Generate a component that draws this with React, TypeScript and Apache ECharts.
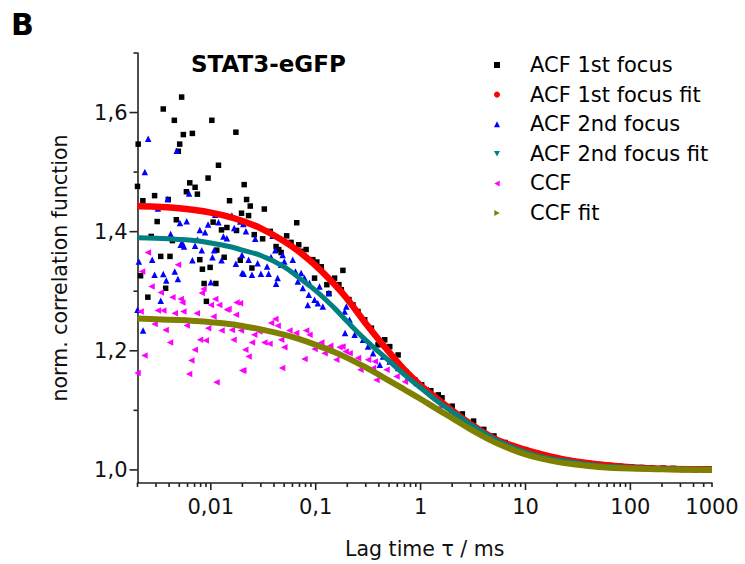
import React, { useEffect, useRef } from 'react';
import * as echarts from 'echarts';

const FONT = "'DejaVu Sans', 'Liberation Sans', sans-serif";

const X_MIN = 0.002;
const X_MAX = 600;
const Y_MIN = 0.978;
const Y_MAX = 1.7;

const xLabelValues = [0.01, 0.1, 1, 10, 100, 600];
const xLabelTexts = ['0,01', '0,1', '1', '10', '100', '1000'];
const xMajorTicks = [0.01, 0.1, 1, 10, 100];
const xMinorTicks = [
  0.002, 0.003, 0.004, 0.005, 0.006, 0.007, 0.008, 0.009,
  0.02, 0.03, 0.04, 0.05, 0.06, 0.07, 0.08, 0.09,
  0.2, 0.3, 0.4, 0.5, 0.6, 0.7, 0.8, 0.9,
  2, 3, 4, 5, 6, 7, 8, 9,
  20, 30, 40, 50, 60, 70, 80, 90,
  200, 300, 400, 500, 600,
];
const yLabelValues = [1.0, 1.2, 1.4, 1.6];
const yLabelTexts = ['1,0', '1,2', '1,4', '1,6'];
const yMinorTicks = [1.1, 1.3, 1.5, 1.7];

const legendNames = [
  'ACF 1st focus',
  'ACF 1st focus fit',
  'ACF 2nd focus',
  'ACF 2nd focus fit',
  'CCF',
  'CCF fit',
];

// ACF 1st focus (black squares): [lag time ms, G]
const acf1Data = [
  [0.002, 1.476], [0.00203, 1.547], [0.00214, 1.326], [0.00225, 1.452], [0.00251, 1.29],
  [0.0027, 1.392], [0.00291, 1.4605], [0.00308, 1.417], [0.00333, 1.3585], [0.00352, 1.606],
  [0.00371, 1.305], [0.00393, 1.454], [0.00408, 1.3585], [0.0043, 1.385], [0.00449, 1.587],
  [0.00469, 1.42], [0.0049, 1.535], [0.00505, 1.547], [0.00527, 1.626], [0.00547, 1.563],
  [0.00585, 1.467], [0.0063, 1.482], [0.00667, 1.565], [0.00708, 1.4745], [0.00745, 1.463],
  [0.00785, 1.353], [0.00831, 1.337], [0.00863, 1.313], [0.00908, 1.283], [0.00942, 1.49],
  [0.00985, 1.34], [0.01023, 1.587], [0.01052, 1.416], [0.01117, 1.313], [0.0114, 1.369],
  [0.01183, 1.5115], [0.01264, 1.403], [0.0134, 1.357], [0.01423, 1.407], [0.01508, 1.452],
  [0.01734, 1.567], [0.01758, 1.402], [0.0191, 1.352], [0.01963, 1.431], [0.0208, 1.479],
  [0.02193, 1.454], [0.02291, 1.427], [0.02377, 1.443], [0.02466, 1.339], [0.02594, 1.395],
  [0.03119, 1.388], [0.03236, 1.438], [0.0369, 1.4005], [0.0419, 1.375], [0.0444, 1.37],
  [0.0468, 1.365], [0.05285, 1.393], [0.0582, 1.382], [0.0659, 1.415], [0.0689, 1.378],
  [0.0726, 1.367], [0.081, 1.37], [0.0938, 1.353], [0.0975, 1.322], [0.1025, 1.349],
  [0.1129, 1.341], [0.1277, 1.311], [0.1336, 1.296], [0.1513, 1.322], [0.1664, 1.311],
  [0.1754, 1.3025], [0.1817, 1.335], [0.2073, 1.286], [0.2265, 1.277], [0.2529, 1.266],
  [0.2931, 1.252], [0.3396, 1.238], [0.3926, 1.21], [0.4549, 1.2185], [0.508, 1.207],
  [0.6106, 1.193], [0.7236, 1.165], [0.8816, 1.151], [1.023, 1.143], [1.25, 1.133],
  [1.474, 1.126], [1.6, 1.121], [2, 1.107], [2.5, 1.094], [3.2, 1.082], [4, 1.068],
  [5, 1.057], [6.4, 1.046], [8, 1.039], [10, 1.034], [12.8, 1.028], [16, 1.023],
  [20, 1.019], [25.6, 1.016], [32, 1.013], [40, 1.011], [51, 1.009], [64, 1.0075],
  [80, 1.006], [102, 1.005], [128, 1.004], [160, 1.0035], [205, 1.003], [256, 1.0025],
  [320, 1.002], [410, 1.0015], [512, 1.001],
];

// ACF 2nd focus (blue triangles)
const acf2Data = [
  [0.00253, 1.556], [0.00473, 1.536], [0.00235, 1.5], [0.0062, 1.464], [0.00388, 1.455],
  [0.00313, 1.4387], [0.011, 1.4286], [0.01588, 1.427], [0.00508, 1.4146], [0.00589, 1.4174],
  [0.00785, 1.403], [0.00882, 1.399], [0.00942, 1.412], [0.01183, 1.4157], [0.0132, 1.392],
  [0.01423, 1.389], [0.0167, 1.406], [0.0191, 1.417], [0.00414, 1.396], [0.00745, 1.3866],
  [0.00535, 1.381], [0.00206, 1.35], [0.00276, 1.353], [0.00516, 1.378], [0.00555, 1.375],
  [0.00708, 1.3765], [0.0082, 1.3686], [0.01076, 1.3686], [0.00667, 1.352], [0.01036, 1.357],
  [0.01264, 1.352], [0.01734, 1.346], [0.00291, 1.3277], [0.00352, 1.329], [0.00453, 1.3333],
  [0.00376, 1.318], [0.00486, 1.3205], [0.01, 1.315], [0.00333, 1.284], [0.002, 1.269],
  [0.00226, 1.234], [0.0199, 1.3306], [0.0204, 1.413], [0.02163, 1.4005], [0.02654, 1.388],
  [0.0388, 1.393], [0.01982, 1.361], [0.02291, 1.353], [0.02793, 1.347], [0.03436, 1.3417],
  [0.0375, 1.3574], [0.0412, 1.3686], [0.0484, 1.361], [0.0502, 1.35], [0.0468, 1.3445],
  [0.0604, 1.353], [0.0206, 1.3294], [0.02466, 1.3277], [0.03006, 1.3294], [0.03556, 1.3294],
  [0.04335, 1.322], [0.0419, 1.3126], [0.0641, 1.3333], [0.0726, 1.3306], [0.0781, 1.322],
  [0.0675, 1.3165], [0.0872, 1.3137], [0.0753, 1.3053], [0.1087, 1.308], [0.0859, 1.294],
  [0.0975, 1.2857], [0.1336, 1.297], [0.1047, 1.28], [0.084, 1.277], [0.1169, 1.2745],
  [0.1958, 1.2745], [0.1888, 1.266], [0.2104, 1.252], [0.1905, 1.2297], [0.2351, 1.227],
  [0.2823, 1.2185], [0.3152, 1.207], [0.3517, 1.196], [0.4385, 1.1905], [0.508, 1.182],
  [0.6106, 1.171], [0.7603, 1.157], [0.9162, 1.1457], [1.183, 1.1345], [0.4082, 1.1765],
  [1.5, 1.118], [2, 1.1], [2.5, 1.088], [3.2, 1.075], [4, 1.064], [5, 1.054], [6.4, 1.044],
  [8, 1.037], [10, 1.032], [12.8, 1.026], [16, 1.021], [20, 1.018], [25.6, 1.015],
  [32, 1.012], [40, 1.01], [51, 1.008], [64, 1.007], [80, 1.0055], [102, 1.0045],
  [128, 1.004], [160, 1.003], [205, 1.0025], [256, 1.002], [320, 1.0015], [410, 1.001],
  [512, 1.001],
];

// CCF (magenta left triangles)
const ccfData = [
  [0.00251, 1.365], [0.00486, 1.3445], [0.00221, 1.3333], [0.00272, 1.308], [0.00333, 1.298],
  [0.0043, 1.29], [0.00516, 1.287], [0.00535, 1.281], [0.00849, 1.3037], [0.0082, 1.297],
  [0.01, 1.277], [0.011, 1.287], [0.012, 1.277], [0.01473, 1.27], [0.01758, 1.281],
  [0.00214, 1.266], [0.00313, 1.2678], [0.00352, 1.2678], [0.00453, 1.263], [0.00547, 1.266],
  [0.00735, 1.263], [0.01059, 1.2577], [0.01423, 1.269], [0.01734, 1.2605], [0.00291, 1.245],
  [0.00589, 1.2425], [0.00371, 1.235], [0.00942, 1.238], [0.01264, 1.234], [0.01588, 1.235],
  [0.01937, 1.234], [0.0079, 1.2185], [0.00896, 1.2174], [0.00408, 1.214], [0.01645, 1.2185],
  [0.00703, 1.2017], [0.00233, 1.192], [0.00652, 1.1837], [0.002, 1.1625], [0.0062, 1.161],
  [0.0199, 1.167], [0.01132, 1.147], [0.0412, 1.2533], [0.0375, 1.2465], [0.04335, 1.242],
  [0.01896, 1.28], [0.02594, 1.227], [0.029, 1.2325], [0.0561, 1.234], [0.065, 1.2297],
  [0.081, 1.234], [0.0872, 1.227], [0.0468, 1.2185], [0.02466, 1.214], [0.03236, 1.214],
  [0.0362, 1.2118], [0.1129, 1.214], [0.0975, 1.2028], [0.1377, 1.2084], [0.169, 1.206],
  [0.0502, 1.206], [0.02129, 1.2017], [0.02291, 1.1905], [0.1214, 1.196], [0.1928, 1.199],
  [0.157, 1.185], [0.0781, 1.186], [0.0204, 1.167], [0.0478, 1.171], [0.1795, 1.207],
  [0.2104, 1.196], [0.2529, 1.1877], [0.3152, 1.185], [0.3654, 1.182], [0.3517, 1.171],
  [0.3793, 1.151], [0.473, 1.168], [0.589, 1.157], [0.7079, 1.148], [0.9846, 1.137],
  [0.2667, 1.168], [1.5, 1.104], [2, 1.09], [2.5, 1.079], [3.2, 1.067], [4, 1.057],
  [5, 1.048], [6.4, 1.039], [8, 1.033], [10, 1.028], [12.8, 1.023], [16, 1.019],
  [20, 1.016], [25.6, 1.013], [32, 1.011], [40, 1.009], [51, 1.0075], [64, 1.006],
  [80, 1.005], [102, 1.004], [128, 1.0035], [160, 1.003], [205, 1.0025], [256, 1.002],
  [320, 1.0015], [410, 1.001], [512, 1.001],
];

// Fit curves
const acf1Fit = [
  [0.002, 1.4425], [0.003, 1.442], [0.005, 1.4395], [0.007, 1.4365], [0.01, 1.432],
  [0.015, 1.425], [0.02, 1.418], [0.03, 1.4055], [0.05, 1.384], [0.07, 1.366],
  [0.1, 1.343], [0.15, 1.312], [0.2, 1.287], [0.3, 1.246], [0.5, 1.198], [0.7, 1.168],
  [1, 1.142], [1.5, 1.117], [2, 1.1], [3, 1.077], [5, 1.053], [7, 1.0425], [10, 1.0335],
  [15, 1.025], [20, 1.02], [30, 1.014], [50, 1.009], [100, 1.0045], [200, 1.002], [600, 1.001],
];
const acf2Fit = [
  [0.002, 1.39], [0.003, 1.389], [0.005, 1.387], [0.007, 1.385], [0.01, 1.381],
  [0.015, 1.375], [0.02, 1.369], [0.03, 1.36], [0.05, 1.341], [0.07, 1.322],
  [0.1, 1.301], [0.15, 1.272], [0.2, 1.249], [0.3, 1.218], [0.5, 1.183], [0.7, 1.16],
  [1, 1.138], [1.5, 1.113], [2, 1.098], [3, 1.076], [5, 1.052], [7, 1.04], [10, 1.03],
  [15, 1.021], [20, 1.017], [30, 1.012], [50, 1.007], [100, 1.004], [200, 1.002], [600, 1.001],
];
const ccfFit = [
  [0.002, 1.254], [0.003, 1.253], [0.005, 1.2515], [0.007, 1.25], [0.01, 1.248],
  [0.015, 1.245], [0.02, 1.2415], [0.03, 1.236], [0.05, 1.227], [0.07, 1.2195],
  [0.1, 1.21], [0.15, 1.198], [0.2, 1.188], [0.3, 1.172], [0.5, 1.15], [0.7, 1.135],
  [1, 1.119], [1.5, 1.1], [2, 1.087], [3, 1.068], [5, 1.047], [7, 1.036], [10, 1.026],
  [15, 1.018], [20, 1.0135], [30, 1.009], [50, 1.005], [100, 1.0022], [200, 1.001], [600, 1.0],
];

const AXIS_COLOR = '#222';

function labelFor(values: number[], texts: string[], v: number, logScale: boolean) {
  for (let i = 0; i < values.length; i++) {
    const a = logScale ? Math.log10(values[i]) : values[i];
    const b = logScale ? Math.log10(v) : v;
    if (Math.abs(a - b) < 1e-3) return texts[i];
  }
  return '';
}

export default function App() {
  const ref = useRef<HTMLDivElement>(null);

  useEffect(() => {
    document.body.style.margin = '0';
    if (!ref.current) return;
    const chart = echarts.init(ref.current, null, { renderer: 'svg' });

    const tickData: number[][] = [];
    xMajorTicks.forEach((v) => tickData.push([v, Y_MIN, 7, 0]));
    xMinorTicks.forEach((v) => tickData.push([v, Y_MIN, 4, 0]));
    yLabelValues.forEach((v) => tickData.push([X_MIN, v, 8, 1]));
    yMinorTicks.forEach((v) => tickData.push([X_MIN, v, 4, 1]));

    const option: any = {
      animation: false,
      title: [
        {
          text: 'B',
          left: 11,
          top: 9,
          padding: 0,
          textStyle: { fontFamily: FONT, fontWeight: 'bold', fontSize: 30, color: '#000', lineHeight: 30 },
        },
        {
          text: 'STAT3-eGFP',
          left: 191,
          top: 52,
          padding: 0,
          textStyle: { fontFamily: FONT, fontWeight: 'bold', fontSize: 23, color: '#000', lineHeight: 23 },
        },
      ],
      legend: {
        orient: 'vertical',
        left: 494,
        top: 54,
        padding: 0,
        itemWidth: 6,
        itemHeight: 6,
        itemGap: 7.6,
        selectedMode: false,
        textStyle: {
          fontFamily: FONT,
          fontSize: 21,
          color: '#000',
          lineHeight: 22,
          padding: [0, 0, 0, 25],
        },
        data: [
          { name: legendNames[0], icon: 'rect' },
          { name: legendNames[1], icon: 'circle' },
          { name: legendNames[2], icon: 'triangle' },
          { name: legendNames[3], icon: 'path://M0,0L10,0L5,9Z' },
          { name: legendNames[4], icon: 'path://M9,0L9,10L0,5Z' },
          { name: legendNames[5], icon: 'path://M0,0L9,5L0,10Z' },
        ],
      },
      grid: { left: 137.5, right: 33, top: 53, bottom: 81, containLabel: false, outerBoundsMode: 'none' },
      xAxis: {
        type: 'log',
        logBase: 10,
        min: X_MIN,
        max: X_MAX,
        axisLine: { show: true, onZero: false, lineStyle: { color: AXIS_COLOR, width: 1.6 } },
        axisTick: { show: false },
        minorTick: { show: false },
        splitLine: { show: false },
        minorSplitLine: { show: false },
        axisLabel: {
          margin: 13,
          fontFamily: FONT,
          fontSize: 21,
          color: '#111',
          formatter: (v: number) => labelFor(xLabelValues, xLabelTexts, v, true),
        },
        name: 'Lag time τ / ms',
        nameLocation: 'middle',
        nameGap: 55,
        nameTextStyle: { fontFamily: FONT, fontSize: 20.5, color: '#111', lineHeight: 21 },
      },
      yAxis: {
        type: 'value',
        min: Y_MIN,
        max: Y_MAX,
        axisLine: { show: true, onZero: false, lineStyle: { color: AXIS_COLOR, width: 1.6 } },
        axisTick: { show: false },
        splitLine: { show: false },
        axisLabel: {
          customValues: yLabelValues,
          margin: 10,
          fontFamily: FONT,
          fontSize: 21,
          color: '#111',
          formatter: (v: number) => labelFor(yLabelValues, yLabelTexts, v, false),
        },
        name: 'norm. correlation function',
        nameLocation: 'middle',
        nameRotate: 90,
        nameGap: 67,
        nameTextStyle: { fontFamily: FONT, fontSize: 20.5, color: '#111', lineHeight: 21 },
      },
      series: [
        {
          name: legendNames[0],
          type: 'scatter',
          data: acf1Data,
          symbol: 'rect',
          symbolSize: 5.5,
          itemStyle: { color: '#000000', opacity: 1 },
        },
        {
          name: legendNames[1],
          type: 'line',
          data: acf1Fit,
          smooth: 0.4,
          showSymbol: false,
          itemStyle: { color: '#ff0000' },
          lineStyle: { color: '#ff0000', width: 6.5 },
        },
        {
          name: legendNames[2],
          type: 'scatter',
          data: acf2Data,
          symbol: 'triangle',
          symbolSize: 6.5,
          itemStyle: { color: '#0000ff', opacity: 1 },
        },
        {
          name: legendNames[3],
          type: 'line',
          data: acf2Fit,
          smooth: 0.4,
          showSymbol: false,
          itemStyle: { color: '#008080' },
          lineStyle: { color: '#008080', width: 5 },
        },
        {
          name: legendNames[4],
          type: 'scatter',
          data: ccfData,
          symbol: 'triangle',
          symbolRotate: 90,
          symbolSize: 6.5,
          itemStyle: { color: '#ff00ff', opacity: 1 },
        },
        {
          name: legendNames[5],
          type: 'line',
          data: ccfFit,
          smooth: 0.4,
          showSymbol: false,
          itemStyle: { color: '#808000' },
          lineStyle: { color: '#808000', width: 6 },
        },
        {
          name: 'axis ticks',
          type: 'custom',
          silent: true,
          clip: false,
          z: 10,
          data: tickData,
          encode: { x: 0, y: 1 },
          renderItem: (_params: any, api: any) => {
            const p = api.coord([api.value(0), api.value(1)]);
            const len = api.value(2);
            const dir = api.value(3);
            const x2 = dir === 0 ? p[0] : p[0] - len;
            const y2 = dir === 0 ? p[1] + len : p[1];
            return {
              type: 'line',
              shape: { x1: p[0], y1: p[1], x2, y2 },
              style: { stroke: AXIS_COLOR, lineWidth: 1.6 },
            };
          },
        },
      ],
    };

    chart.setOption(option);
    return () => chart.dispose();
  }, []);

  return <div ref={ref} style={{ width: 745, height: 564 }} />;
}
